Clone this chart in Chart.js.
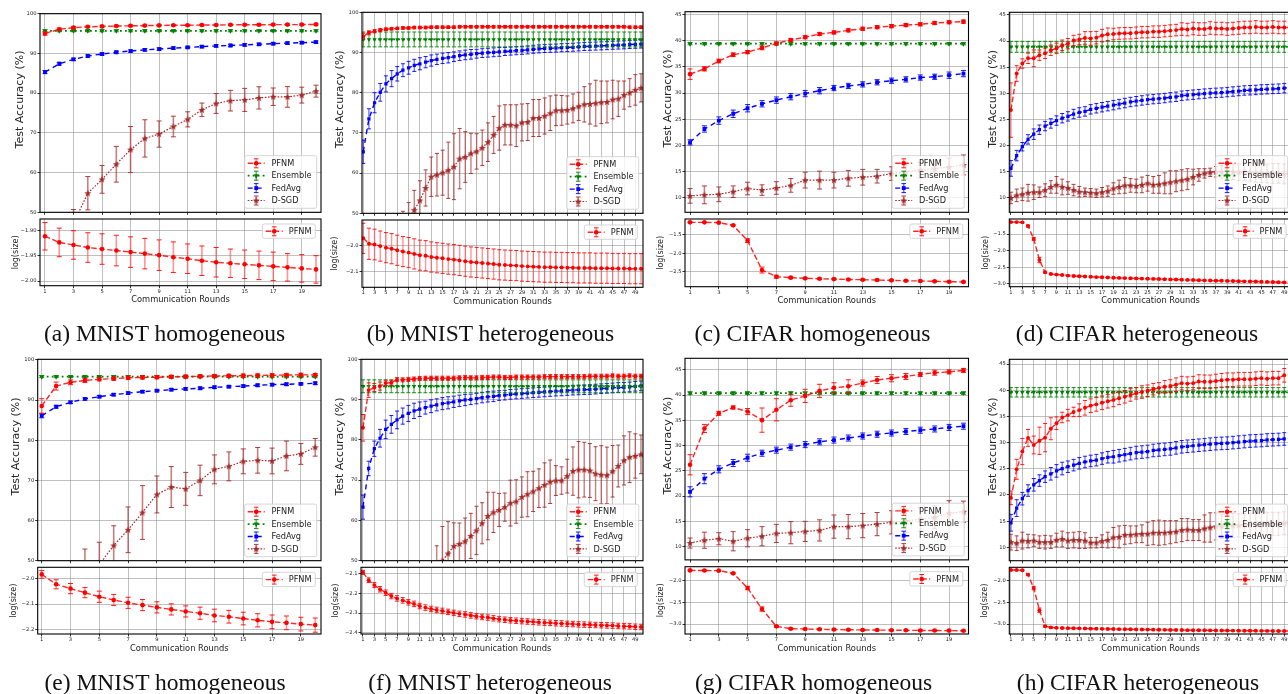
<!DOCTYPE html>
<html><head><meta charset="utf-8">
<script src="https://cdn.jsdelivr.net/npm/chart.js@4.4.1/dist/chart.umd.min.js"></script>
<style>
html,body{margin:0;padding:0;background:#fff;}
#fig{position:relative;width:1288px;height:694px;overflow:hidden;background:#fff;}
#fig canvas{position:absolute;}
.cap{position:absolute;width:330px;text-align:center;font-family:'Liberation Serif','Times New Roman',serif;font-size:23.5px;line-height:23.5px;color:#111;white-space:nowrap;}
</style></head><body><div id="fig"></div>
<script>
// ---------------- DATA ----------------
const captions = ['(a) MNIST homogeneous','(b) MNIST heterogeneous','(c) CIFAR homogeneous','(d) CIFAR heterogeneous',
                  '(e) MNIST homogeneous','(f) MNIST heterogeneous','(g) CIFAR homogeneous','(h) CIFAR heterogeneous'];
const rounds20 = [1,2,3,4,5,6,7,8,9,10,11,12,13,14,15,16,17,18,19,20];
const rounds50 = [1,2,3,4,5,6,7,8,9,10,11,12,13,14,15,16,17,18,19,20,21,22,23,24,25,26,27,28,29,30,31,32,33,34,35,36,37,38,39,40,41,42,43,44,45,46,47,48,49,50];
const xTicks20 = [1,3,5,7,9,11,13,15,17,19];
const xTicks50 = [1,3,5,7,9,11,13,15,17,19,21,23,25,27,29,31,33,35,37,39,41,43,45,47,49];
const accTicks100 = [50,60,70,80,90,100];
const accTicks45 = [10,15,20,25,30,35,40,45];
const a_sizeTicks = [-2.00,-1.95,-1.90];
const b_sizeTicks = [-2.1,-2.0];
const c_sizeTicks = [-2.5,-2.0,-1.5];
const d_sizeTicks = [-3.0,-2.5,-2.0,-1.5];
const e_sizeTicks = [-2.2,-2.1,-2.0];
const f_sizeTicks = [-2.4,-2.3,-2.2,-2.1];
const g_sizeTicks = [-3.0,-2.5,-2.0];
const h_sizeTicks = [-3.0,-2.5,-2.0];

// (a) MNIST homogeneous
const a_pfnm = [95.0,96.1,96.5,96.7,96.8,96.9,96.95,97.0,97.05,97.1,97.1,97.15,97.15,97.2,97.2,97.2,97.25,97.25,97.25,97.3];
const a_pfnm_err = [0.4,0.3,0.25,0.2,0.2,0.2,0.2,0.2,0.2,0.2,0.2,0.2,0.2,0.2,0.2,0.2,0.2,0.2,0.2,0.2];
const a_ens = [95.7,95.7,95.7,95.7,95.7,95.7,95.7,95.7,95.7,95.7,95.7,95.7,95.7,95.7,95.7,95.7,95.7,95.7,95.7,95.7];
const a_ens_err = [0.25,0.25,0.25,0.25,0.25,0.25,0.25,0.25,0.25,0.25,0.25,0.25,0.25,0.25,0.25,0.25,0.25,0.25,0.25,0.25];
const a_fedavg = [85.3,87.4,88.5,89.35,89.85,90.3,90.6,90.9,91.1,91.35,91.5,91.7,91.9,92.0,92.15,92.3,92.45,92.6,92.7,92.85];
const a_fedavg_err = [0.4,0.35,0.3,0.3,0.3,0.3,0.3,0.3,0.3,0.3,0.3,0.3,0.3,0.3,0.3,0.3,0.3,0.3,0.3,0.3];
const a_dsgd = [36.0,42.0,47.2,54.8,58.3,62.1,65.8,68.6,69.7,71.6,73.4,75.8,77.4,78.1,78.3,78.8,79.1,79.05,79.5,80.5];
const a_dsgd_err = [4.0,4.0,3.5,4.2,3.5,4.5,5.8,4.7,3.3,2.6,1.9,1.7,2.5,2.6,2.9,2.8,2.2,2.6,2.0,1.5];
const a_size = [-1.912,-1.924,-1.929,-1.934,-1.937,-1.940,-1.943,-1.946,-1.949,-1.953,-1.956,-1.960,-1.963,-1.965,-1.967,-1.969,-1.971,-1.973,-1.975,-1.977];
const a_size_err = [0.027,0.028,0.028,0.029,0.03,0.03,0.03,0.03,0.03,0.03,0.029,0.029,0.029,0.028,0.028,0.028,0.028,0.027,0.027,0.027];

// (b) MNIST heterogeneous
const b_pfnm = [94.0,94.9,95.3,95.6,95.8,95.9,96.0,96.1,96.1,96.2,
  96.2,96.2,96.3,96.3,96.3,96.3,96.3,96.4,96.4,96.4,
  96.4,96.4,96.4,96.4,96.4,96.4,96.4,96.4,96.4,96.4,
  96.4,96.4,96.4,96.4,96.4,96.4,96.4,96.4,96.4,96.4,
  96.4,96.4,96.4,96.4,96.4,96.4,96.4,96.3,96.3,96.3];
const b_pfnm_err = [0.8,0.5,0.4,0.35,0.3,0.3,0.3,0.3,0.3,0.3,
  0.3,0.3,0.3,0.3,0.3,0.3,0.3,0.3,0.3,0.3,
  0.3,0.3,0.3,0.3,0.3,0.3,0.3,0.3,0.3,0.3,
  0.3,0.3,0.3,0.3,0.3,0.3,0.3,0.3,0.3,0.3,
  0.3,0.3,0.3,0.3,0.3,0.3,0.3,0.3,0.3,0.3];
const b_ens = [93.25,93.25,93.25,93.25,93.25,93.25,93.25,93.25,93.25,93.25,
  93.25,93.25,93.25,93.25,93.25,93.25,93.25,93.25,93.25,93.25,
  93.25,93.25,93.25,93.25,93.25,93.25,93.25,93.25,93.25,93.25,
  93.25,93.25,93.25,93.25,93.25,93.25,93.25,93.25,93.25,93.25,
  93.25,93.25,93.25,93.25,93.25,93.25,93.25,93.25,93.25,93.25];
const b_ens_err = [1.85,1.85,1.85,1.85,1.85,1.85,1.85,1.85,1.85,1.85,
  1.85,1.85,1.85,1.85,1.85,1.85,1.85,1.85,1.85,1.85,
  1.85,1.85,1.85,1.85,1.85,1.85,1.85,1.85,1.85,1.85,
  1.85,1.85,1.85,1.85,1.85,1.85,1.85,1.85,1.85,1.85,
  1.85,1.85,1.85,1.85,1.85,1.85,1.85,1.85,1.85,1.85];
const b_fedavg = [65.3,73.5,77.5,80.1,82.2,83.5,84.7,85.6,86.2,86.8,
  87.2,87.6,88.0,88.3,88.55,88.7,88.95,89.2,89.4,89.55,
  89.7,89.85,89.95,90.05,90.15,90.25,90.35,90.45,90.55,90.65,
  90.8,90.9,91.0,91.05,91.1,91.2,91.25,91.3,91.4,91.5,
  91.55,91.6,91.65,91.7,91.8,91.85,91.9,92.0,92.05,92.1];
const b_fedavg_err = [2.9,2.5,2.5,2.2,2.0,2.0,1.8,1.6,1.6,1.5,
  1.5,1.4,1.4,1.3,1.3,1.3,1.2,1.2,1.2,1.2,
  1.1,1.1,1.1,1.1,1.1,1.0,1.0,1.0,1.0,1.0,
  1.0,1.0,1.0,1.0,1.0,1.0,1.0,1.0,1.0,1.0,
  1.0,1.0,1.0,1.0,1.0,1.0,1.0,1.0,1.0,1.0];
const b_dsgd = [30.0,34.0,38.0,41.0,44.0,46.0,47.5,48.5,49.0,50.8,
  53.2,56.3,59.1,59.6,60.1,60.7,61.6,63.6,64.0,64.9,
  65.4,66.3,67.7,69.5,71.2,72.0,72.0,71.8,72.6,72.7,
  73.7,73.7,74.2,74.9,75.6,75.6,75.7,76.1,76.6,77.1,
  77.2,77.4,77.6,77.7,78.3,78.5,79.4,80.0,80.7,81.2];
const b_dsgd_err = [3.0,3.0,3.0,3.0,3.0,3.0,2.0,2.0,3.7,4.9,
  4.9,4.5,4.9,5.3,5.6,7.0,8.2,7.5,6.3,5.0,
  4.4,4.4,4.8,4.6,5.5,5.0,5.0,5.2,4.6,4.6,
  4.6,4.6,4.5,4.3,3.8,3.7,3.5,3.6,3.5,4.4,
  5.0,5.7,5.3,5.2,4.8,4.4,3.5,3.5,3.8,3.5];
const b_size = [-1.973,-1.994,-1.997,-2.003,-2.009,-2.013,-2.019,-2.024,-2.028,-2.033,
  -2.038,-2.040,-2.045,-2.048,-2.050,-2.053,-2.055,-2.058,-2.061,-2.064,
  -2.066,-2.068,-2.070,-2.072,-2.075,-2.076,-2.077,-2.078,-2.080,-2.081,
  -2.082,-2.083,-2.084,-2.084,-2.085,-2.085,-2.086,-2.086,-2.087,-2.087,
  -2.087,-2.088,-2.088,-2.088,-2.089,-2.089,-2.089,-2.090,-2.090,-2.090];
const b_size_err = [0.058,0.060,0.059,0.058,0.058,0.058,0.058,0.058,0.058,0.058,
  0.058,0.058,0.058,0.058,0.058,0.058,0.058,0.058,0.058,0.058,
  0.058,0.058,0.058,0.058,0.058,0.058,0.058,0.058,0.058,0.058,
  0.058,0.058,0.058,0.058,0.058,0.058,0.058,0.058,0.058,0.058,
  0.058,0.058,0.058,0.058,0.058,0.058,0.058,0.058,0.058,0.058];

// (c) CIFAR homogeneous
const c_pfnm = [33.6,34.6,36.1,37.3,37.8,38.6,39.45,40.1,40.65,41.25,41.55,41.95,42.25,42.55,42.75,42.95,43.1,43.35,43.5,43.6];
const c_pfnm_err = [1.0,0.4,0.35,0.35,0.3,0.35,0.3,0.3,0.3,0.3,0.3,0.3,0.3,0.3,0.3,0.3,0.3,0.3,0.3,0.3];
const c_ens = [39.4,39.4,39.4,39.4,39.4,39.4,39.4,39.4,39.4,39.4,39.4,39.4,39.4,39.4,39.4,39.4,39.4,39.4,39.4,39.4];
const c_ens_err = [0.2,0.2,0.2,0.2,0.2,0.2,0.2,0.2,0.2,0.2,0.2,0.2,0.2,0.2,0.2,0.2,0.2,0.2,0.2,0.2];
const c_fedavg = [20.6,23.15,24.75,26.05,27.1,27.95,28.65,29.3,29.9,30.45,30.95,31.35,31.65,32.05,32.35,32.6,32.95,33.1,33.4,33.7];
const c_fedavg_err = [0.5,0.6,0.7,0.7,0.7,0.6,0.6,0.6,0.6,0.6,0.5,0.5,0.5,0.5,0.5,0.5,0.5,0.5,0.6,0.6];
const c_dsgd = [10.4,10.6,10.7,11.2,11.8,11.5,11.9,12.4,13.4,13.4,13.4,13.75,13.95,14.15,14.65,15.0,15.3,15.6,15.9,16.3];
const c_dsgd_err = [1.4,1.7,1.4,1.1,1.2,1.0,1.2,1.3,1.5,1.7,1.5,1.5,1.5,1.3,1.3,1.4,1.5,1.6,1.7,1.9];
const c_size = [-1.167,-1.168,-1.176,-1.248,-1.662,-2.455,-2.635,-2.66,-2.68,-2.69,-2.70,-2.71,-2.716,-2.725,-2.734,-2.745,-2.75,-2.76,-2.77,-2.775];
const c_size_err = [0.01,0.01,0.01,0.015,0.05,0.08,0.04,0.02,0.02,0.02,0.02,0.02,0.02,0.02,0.02,0.02,0.02,0.02,0.02,0.02];

// (d) CIFAR heterogeneous
const d_pfnm = [26.8,33.8,35.7,36.7,36.7,37.3,37.65,38.25,38.6,39.2,
  39.5,40.1,40.3,40.6,40.5,40.65,41.05,41.3,41.35,41.45,
  41.5,41.5,41.6,41.7,41.7,41.8,41.8,41.9,42.0,42.1,
  42.3,42.2,42.4,42.3,42.3,42.5,42.4,42.4,42.3,42.4,
  42.5,42.6,42.6,42.7,42.6,42.6,42.7,42.6,42.6,42.6];
const d_pfnm_err = [5.2,1.5,0.9,1.0,1.6,1.0,1.0,1.0,1.0,1.0,
  1.0,1.0,1.0,1.2,1.3,1.2,1.2,1.2,1.1,1.1,
  1.1,1.1,1.1,1.1,1.1,1.1,1.1,1.1,1.1,1.1,
  1.2,1.2,1.2,1.2,1.2,1.2,1.2,1.2,1.2,1.2,
  1.2,1.2,1.2,1.2,1.2,1.2,1.2,1.2,1.2,1.2];
const d_ens = [38.9,38.9,38.9,38.9,38.9,38.9,38.9,38.9,38.9,38.9,
  38.9,38.9,38.9,38.9,38.9,38.9,38.9,38.9,38.9,38.9,
  38.9,38.9,38.9,38.9,38.9,38.9,38.9,38.9,38.9,38.9,
  38.9,38.9,38.9,38.9,38.9,38.9,38.9,38.9,38.9,38.9,
  38.9,38.9,38.9,38.9,38.9,38.9,38.9,38.9,38.9,38.9];
const d_ens_err = [1.05,1.05,1.05,1.05,1.05,1.05,1.05,1.05,1.05,1.05,
  1.05,1.05,1.05,1.05,1.05,1.05,1.05,1.05,1.05,1.05,
  1.05,1.05,1.05,1.05,1.05,1.05,1.05,1.05,1.05,1.05,
  1.05,1.05,1.05,1.05,1.05,1.05,1.05,1.05,1.05,1.05,
  1.05,1.05,1.05,1.05,1.05,1.05,1.05,1.05,1.05,1.05];
const d_fedavg = [15.65,18.1,19.8,21.2,22.2,23.05,23.75,24.25,24.8,25.25,
  25.6,26.05,26.35,26.55,26.95,27.15,27.35,27.55,27.75,27.95,
  28.15,28.35,28.5,28.65,28.8,28.9,29.0,29.1,29.25,29.35,
  29.55,29.65,29.75,29.85,29.95,30.05,30.1,30.15,30.25,30.35,
  30.45,30.55,30.6,30.65,30.75,30.8,30.85,30.9,31.0,31.1];
const d_fedavg_err = [1.5,1.0,0.8,0.9,1.0,0.9,0.9,0.9,0.9,0.9,
  0.9,0.9,0.9,0.9,0.9,0.9,0.9,0.9,0.9,0.9,
  0.9,0.9,0.9,0.9,0.9,0.9,0.9,0.9,0.9,0.9,
  0.9,0.9,0.9,0.9,0.9,0.9,0.9,0.9,0.9,0.9,
  0.9,0.9,0.9,0.9,0.9,0.9,0.9,0.9,0.9,0.9];
const d_dsgd = [10.0,10.5,10.7,11.0,11.1,11.1,11.5,12.1,12.5,12.1,
  11.9,11.5,11.2,11.1,11.0,10.9,11.1,11.3,11.8,12.1,
  12.4,12.4,12.3,12.5,12.8,12.5,12.6,12.8,13.0,13.2,
  13.4,13.6,14.0,14.4,14.7,14.9,15.0,15.0,15.1,15.0,
  14.9,15.0,14.9,14.8,14.8,14.7,14.7,14.7,14.6,14.6];
const d_dsgd_err = [1.1,1.2,1.2,1.6,1.4,1.0,1.2,1.2,1.6,1.5,
  1.2,1.1,1.0,0.8,0.8,0.8,0.9,1.0,1.1,1.3,
  1.5,1.3,1.3,1.5,1.5,1.6,1.7,2.0,2.2,2.0,
  2.0,2.0,1.5,1.2,0.9,0.8,1.0,1.2,1.4,1.5,
  1.6,1.7,1.7,1.8,1.8,1.8,1.9,1.9,1.9,1.9];
const d_size = [-1.140,-1.140,-1.148,-1.260,-1.650,-2.285,-2.655,-2.705,-2.725,-2.737,
  -2.755,-2.765,-2.775,-2.780,-2.790,-2.800,-2.805,-2.810,-2.820,-2.825,
  -2.830,-2.835,-2.840,-2.845,-2.850,-2.855,-2.860,-2.865,-2.870,-2.875,
  -2.880,-2.885,-2.890,-2.895,-2.900,-2.905,-2.910,-2.910,-2.915,-2.920,
  -2.925,-2.930,-2.930,-2.935,-2.940,-2.945,-2.950,-2.955,-2.960,-2.965];
const d_size_err = [0.015,0.015,0.015,0.03,0.04,0.08,0.03,0.02,0.02,0.02,
  0.02,0.02,0.02,0.02,0.02,0.02,0.02,0.02,0.02,0.02,
  0.02,0.02,0.02,0.02,0.02,0.02,0.02,0.02,0.02,0.02,
  0.02,0.02,0.02,0.02,0.02,0.02,0.02,0.02,0.02,0.02,
  0.02,0.02,0.02,0.02,0.02,0.02,0.02,0.02,0.02,0.02];

// (e) MNIST homogeneous
const e_pfnm = [88.55,93.5,94.45,94.9,95.2,95.35,95.55,95.65,95.7,95.8,95.85,95.95,96.0,96.05,96.1,96.15,96.2,96.25,96.3,96.3];
const e_pfnm_err = [1.8,1.0,0.6,0.5,0.4,0.4,0.4,0.4,0.4,0.4,0.4,0.4,0.4,0.4,0.4,0.4,0.4,0.4,0.4,0.3];
const e_ens = [95.85,95.85,95.85,95.85,95.85,95.85,95.85,95.85,95.85,95.85,95.85,95.85,95.85,95.85,95.85,95.85,95.85,95.85,95.85,95.85];
const e_ens_err = [0.25,0.25,0.25,0.25,0.25,0.25,0.25,0.25,0.25,0.25,0.25,0.25,0.25,0.25,0.25,0.25,0.25,0.25,0.25,0.25];
const e_fedavg = [86.1,88.35,89.45,90.3,90.85,91.35,91.75,92.1,92.35,92.6,92.8,92.95,93.2,93.35,93.5,93.7,93.85,93.95,94.05,94.2];
const e_fedavg_err = [0.5,0.35,0.3,0.3,0.3,0.3,0.3,0.3,0.3,0.3,0.3,0.3,0.3,0.3,0.3,0.3,0.3,0.3,0.3,0.3];
const e_dsgd = [32.0,39.0,44.0,48.0,49.0,53.8,57.7,62.0,66.5,68.35,67.9,70.0,72.75,73.5,74.75,75.0,74.85,76.1,76.6,78.25];
const e_dsgd_err = [4.0,4.5,4.5,4.9,5.6,4.9,5.7,6.7,4.6,5.1,4.1,3.8,3.6,3.6,3.1,3.2,3.2,3.7,2.6,2.2];
const e_size = [-1.983,-2.022,-2.039,-2.055,-2.071,-2.084,-2.095,-2.104,-2.113,-2.121,-2.129,-2.136,-2.145,-2.150,-2.157,-2.164,-2.170,-2.174,-2.179,-2.183];
const e_size_err = [0.015,0.018,0.02,0.02,0.022,0.022,0.022,0.022,0.022,0.022,0.022,0.024,0.025,0.025,0.025,0.026,0.027,0.027,0.027,0.028];

// (f) MNIST heterogeneous
const f_pfnm = [83.0,92.35,93.0,93.35,94.1,94.2,94.95,94.9,95.0,95.1,
  95.25,95.3,95.3,95.3,95.3,95.3,95.3,95.4,95.5,95.4,
  95.4,95.5,95.5,95.6,95.6,95.5,95.5,95.6,95.6,95.6,
  95.6,95.6,95.7,95.7,95.7,95.7,95.7,95.7,95.7,95.7,
  95.8,95.8,95.8,95.8,95.9,95.8,95.8,95.9,95.8,95.8];
const f_pfnm_err = [3.3,1.8,1.0,1.0,0.7,0.6,0.5,0.5,0.5,0.5,
  0.5,0.5,0.5,0.5,0.5,0.5,0.5,0.5,0.5,0.5,
  0.5,0.5,0.5,0.5,0.5,0.5,0.5,0.5,0.5,0.5,
  0.5,0.5,0.5,0.5,0.5,0.5,0.5,0.5,0.5,0.5,
  0.5,0.5,0.5,0.5,0.5,0.5,0.5,0.5,0.5,0.5];
const f_ens = [93.3,93.3,93.3,93.3,93.3,93.3,93.3,93.3,93.3,93.3,
  93.3,93.3,93.3,93.3,93.3,93.3,93.3,93.3,93.3,93.3,
  93.3,93.3,93.3,93.3,93.3,93.3,93.3,93.3,93.3,93.3,
  93.3,93.3,93.3,93.3,93.3,93.3,93.3,93.3,93.3,93.3,
  93.3,93.3,93.3,93.3,93.3,93.3,93.3,93.3,93.3,93.3];
const f_ens_err = [1.6,1.6,1.6,1.6,1.6,1.6,1.6,1.6,1.6,1.6,
  1.6,1.6,1.6,1.6,1.6,1.6,1.6,1.6,1.6,1.6,
  1.6,1.6,1.6,1.6,1.6,1.6,1.6,1.6,1.6,1.6,
  1.6,1.6,1.6,1.6,1.6,1.6,1.6,1.6,1.6,1.6,
  1.6,1.6,1.6,1.6,1.6,1.6,1.6,1.6,1.6,1.6];
const f_fedavg = [63.3,72.9,77.8,80.4,82.6,83.85,84.95,85.9,86.55,87.2,
  87.6,88.0,88.35,88.7,89.0,89.2,89.45,89.7,89.9,90.05,
  90.25,90.5,90.7,90.8,91.0,91.1,91.3,91.4,91.5,91.6,
  91.7,91.8,91.9,92.0,92.1,92.15,92.25,92.35,92.4,92.45,
  92.5,92.6,92.7,92.8,92.9,93.0,93.05,93.15,93.3,93.4];
const f_fedavg_err = [3.0,1.8,1.9,2.2,2.3,2.2,2.2,2.0,2.0,1.9,
  1.8,1.6,1.6,1.5,1.5,1.5,1.4,1.4,1.4,1.3,
  1.3,1.3,1.3,1.3,1.2,1.2,1.2,1.2,1.2,1.2,
  1.2,1.2,1.2,1.2,1.2,1.2,1.2,1.2,1.2,1.2,
  1.2,1.2,1.2,1.2,1.2,1.2,1.2,1.2,1.2,1.2];
const f_dsgd = [20.0,25.0,29.0,32.0,35.0,37.0,39.0,41.0,42.5,43.5,
  44.5,45.0,46.0,49.0,50.0,51.8,53.6,54.15,54.8,56.15,
  57.5,59.3,61.1,62.0,62.6,63.3,64.3,64.7,65.8,66.5,
  67.2,68.0,68.8,69.6,69.9,69.9,71.0,72.25,72.6,72.6,
  72.4,71.6,71.35,71.2,72.2,73.5,74.9,75.7,76.0,76.4];
const f_dsgd_err = [4.0,4.0,4.0,4.0,4.0,4.0,4.0,4.0,4.0,3.5,
  3.0,3.0,3.0,4.7,8.5,7.9,5.8,5.2,5.8,5.6,
  6.0,5.1,5.9,5.0,4.1,3.5,5.7,5.4,5.0,5.6,
  5.0,4.8,5.5,5.4,3.7,3.4,4.2,6.0,7.0,6.8,
  6.7,6.7,7.2,7.0,6.4,5.2,6.1,6.3,5.5,4.8];
const f_size = [-2.092,-2.132,-2.157,-2.178,-2.196,-2.213,-2.225,-2.235,-2.245,-2.253,
  -2.264,-2.272,-2.279,-2.284,-2.289,-2.294,-2.299,-2.304,-2.307,-2.312,
  -2.316,-2.320,-2.323,-2.327,-2.331,-2.334,-2.337,-2.339,-2.341,-2.343,
  -2.345,-2.347,-2.349,-2.350,-2.352,-2.353,-2.355,-2.356,-2.358,-2.359,
  -2.360,-2.361,-2.362,-2.363,-2.364,-2.366,-2.367,-2.368,-2.370,-2.371];
const f_size_err = [0.010,0.012,0.013,0.014,0.014,0.014,0.014,0.014,0.014,0.014,
  0.014,0.014,0.014,0.014,0.014,0.014,0.014,0.014,0.014,0.014,
  0.014,0.014,0.014,0.014,0.014,0.014,0.014,0.014,0.014,0.014,
  0.014,0.014,0.014,0.014,0.014,0.014,0.014,0.014,0.014,0.014,
  0.014,0.014,0.014,0.014,0.014,0.014,0.014,0.014,0.014,0.014];

// (g) CIFAR homogeneous
const g_pfnm = [26.2,33.4,36.4,37.55,36.75,35.05,37.1,39.0,39.85,40.85,41.45,41.75,42.4,43.0,43.35,43.7,44.1,44.45,44.6,44.9];
const g_pfnm_err = [2.0,0.8,0.4,0.3,0.6,2.4,2.2,1.2,1.3,1.3,1.0,1.3,0.6,0.7,0.7,0.6,0.4,0.5,0.4,0.4];
const g_ens = [40.4,40.4,40.4,40.4,40.4,40.4,40.4,40.4,40.4,40.4,40.4,40.4,40.4,40.4,40.4,40.4,40.4,40.4,40.4,40.4];
const g_ens_err = [0.25,0.25,0.25,0.25,0.25,0.25,0.25,0.25,0.25,0.25,0.25,0.25,0.25,0.25,0.25,0.25,0.25,0.25,0.25,0.25];
const g_fedavg = [20.85,23.45,25.3,26.55,27.6,28.5,29.1,29.7,30.2,30.75,31.1,31.5,31.9,32.25,32.5,32.8,33.05,33.3,33.6,33.85];
const g_fedavg_err = [1.0,1.0,0.7,0.7,0.7,0.6,0.6,0.6,0.6,0.6,0.6,0.6,0.6,0.6,0.6,0.6,0.6,0.6,0.6,0.6];
const g_dsgd = [10.7,11.25,11.55,11.05,11.65,12.05,12.6,12.75,13.0,13.2,13.95,13.95,14.15,14.45,14.8,15.1,15.4,15.8,16.6,16.9];
const g_dsgd_err = [1.0,1.6,1.2,1.9,1.7,1.9,1.8,2.2,2.0,2.1,2.3,2.4,2.4,2.3,2.3,2.3,2.3,2.3,2.5,2.1];
const g_size = [-1.762,-1.765,-1.768,-1.830,-2.169,-2.654,-3.054,-3.108,-3.115,-3.122,-3.127,-3.132,-3.136,-3.139,-3.142,-3.145,-3.148,-3.150,-3.152,-3.155];
const g_size_err = [0.01,0.01,0.01,0.015,0.04,0.05,0.02,0.015,0.015,0.015,0.015,0.015,0.015,0.015,0.015,0.015,0.015,0.015,0.015,0.015];

// (h) CIFAR heterogeneous
const h_pfnm = [19.45,24.9,28.3,30.9,29.55,30.35,30.95,32.65,33.7,34.8,
  35.25,35.85,36.2,36.65,37.05,37.3,37.6,37.9,38.15,38.45,
  38.75,39.1,39.4,39.65,39.9,40.2,40.45,40.65,40.8,41.05,
  41.35,41.25,41.35,41.65,41.6,41.6,41.75,41.9,42.0,42.0,
  42.1,42.1,42.1,42.2,42.3,42.2,42.3,42.3,42.85,43.0];
const h_pfnm_err = [1.3,1.9,2.5,1.6,1.7,2.6,2.7,2.1,1.2,1.0,
  1.1,0.9,1.2,1.4,1.3,1.3,1.3,1.3,1.3,1.2,
  1.2,1.2,1.1,1.2,1.1,1.1,1.0,1.2,1.2,1.3,
  1.3,1.3,1.3,1.3,1.3,1.3,1.3,1.3,1.3,1.3,
  1.3,1.3,1.3,1.3,1.3,1.3,1.3,1.3,1.3,1.3];
const h_ens = [39.6,39.6,39.6,39.6,39.6,39.6,39.6,39.6,39.6,39.6,
  39.6,39.6,39.6,39.6,39.6,39.6,39.6,39.6,39.6,39.6,
  39.6,39.6,39.6,39.6,39.6,39.6,39.6,39.6,39.6,39.6,
  39.6,39.6,39.6,39.6,39.6,39.6,39.6,39.6,39.6,39.6,
  39.6,39.6,39.6,39.6,39.6,39.6,39.6,39.6,39.6,39.6];
const h_ens_err = [0.9,0.9,0.9,0.9,0.9,0.9,0.9,0.9,0.9,0.9,
  0.9,0.9,0.9,0.9,0.9,0.9,0.9,0.9,0.9,0.9,
  0.9,0.9,0.9,0.9,0.9,0.9,0.9,0.9,0.9,0.9,
  0.9,0.9,0.9,0.9,0.9,0.9,0.9,0.9,0.9,0.9,
  0.9,0.9,0.9,0.9,0.9,0.9,0.9,0.9,0.9,0.9];
const h_fedavg = [14.7,17.5,19.3,20.85,21.95,22.75,23.5,24.05,24.6,25.05,
  25.4,25.7,26.05,26.3,26.5,26.65,26.95,27.2,27.3,27.5,
  27.7,27.9,28.1,28.2,28.3,28.5,28.6,28.7,28.8,29.0,
  29.2,29.3,29.4,29.5,29.6,29.7,29.8,29.85,29.9,30.0,
  30.1,30.2,30.3,30.35,30.4,30.5,30.55,30.6,30.7,30.8];
const h_fedavg_err = [1.6,1.6,1.2,1.1,1.2,1.1,1.1,1.2,1.2,1.2,
  1.1,1.1,1.1,1.1,1.1,1.1,1.1,1.1,1.2,1.2,
  1.2,1.2,1.2,1.2,1.2,1.2,1.2,1.2,1.2,1.2,
  1.2,1.2,1.2,1.2,1.2,1.2,1.2,1.2,1.2,1.2,
  1.2,1.2,1.2,1.2,1.2,1.2,1.2,1.2,1.2,1.2];
const h_dsgd = [11.0,10.8,11.3,11.2,11.3,11.0,11.0,11.0,11.4,11.6,
  11.3,11.4,11.4,11.3,10.9,10.9,11.2,11.4,11.9,12.0,
  12.4,12.4,12.5,12.6,12.6,12.8,12.8,12.8,12.9,13.0,
  13.3,13.4,13.3,13.3,13.6,13.8,14.0,14.0,14.1,14.2,
  14.2,14.3,14.3,14.4,14.4,14.5,14.5,14.5,14.6,14.6];
const h_dsgd_err = [1.5,1.4,1.6,1.3,1.1,1.2,1.3,1.2,1.3,1.5,
  1.5,1.5,1.6,1.5,1.0,1.0,1.2,1.5,1.9,2.1,
  1.8,1.7,1.6,1.7,2.2,2.3,2.4,2.3,2.2,2.1,
  2.2,2.1,2.0,2.0,2.6,2.8,2.6,2.3,2.3,2.3,
  2.2,2.2,2.2,2.2,2.2,2.2,2.2,2.2,2.2,2.2];
const h_size = [-1.754,-1.754,-1.757,-1.860,-2.170,-2.680,-3.050,-3.078,-3.088,-3.092,
  -3.095,-3.098,-3.100,-3.103,-3.106,-3.108,-3.111,-3.113,-3.116,-3.118,
  -3.120,-3.122,-3.124,-3.126,-3.128,-3.130,-3.132,-3.134,-3.136,-3.137,
  -3.139,-3.141,-3.142,-3.144,-3.145,-3.147,-3.148,-3.150,-3.151,-3.152,
  -3.153,-3.154,-3.155,-3.156,-3.157,-3.158,-3.159,-3.160,-3.160,-3.161];
const h_size_err = [0.012,0.012,0.012,0.02,0.04,0.05,0.02,0.015,0.015,0.015,
  0.015,0.015,0.015,0.015,0.015,0.015,0.015,0.015,0.015,0.015,
  0.015,0.015,0.015,0.015,0.015,0.015,0.015,0.015,0.015,0.015,
  0.015,0.015,0.015,0.015,0.015,0.015,0.015,0.015,0.015,0.015,
  0.015,0.015,0.015,0.015,0.015,0.015,0.015,0.015,0.015,0.015];

// ---------------- PANEL ASSEMBLY ----------------
const panelData = {
  a:{rounds:rounds20,xTicks:xTicks20,pfnm:[a_pfnm,a_pfnm_err],ens:[a_ens,a_ens_err],fedavg:[a_fedavg,a_fedavg_err],dsgd:[a_dsgd,a_dsgd_err],size:[a_size,a_size_err],accTicks:accTicks100,sizeTicks:a_sizeTicks,caption:captions[0]},
  b:{rounds:rounds50,xTicks:xTicks50,pfnm:[b_pfnm,b_pfnm_err],ens:[b_ens,b_ens_err],fedavg:[b_fedavg,b_fedavg_err],dsgd:[b_dsgd,b_dsgd_err],size:[b_size,b_size_err],accTicks:accTicks100,sizeTicks:b_sizeTicks,caption:captions[1]},
  c:{rounds:rounds20,xTicks:xTicks20,pfnm:[c_pfnm,c_pfnm_err],ens:[c_ens,c_ens_err],fedavg:[c_fedavg,c_fedavg_err],dsgd:[c_dsgd,c_dsgd_err],size:[c_size,c_size_err],accTicks:accTicks45,sizeTicks:c_sizeTicks,caption:captions[2]},
  d:{rounds:rounds50,xTicks:xTicks50,pfnm:[d_pfnm,d_pfnm_err],ens:[d_ens,d_ens_err],fedavg:[d_fedavg,d_fedavg_err],dsgd:[d_dsgd,d_dsgd_err],size:[d_size,d_size_err],accTicks:accTicks45,sizeTicks:d_sizeTicks,caption:captions[3]},
  e:{rounds:rounds20,xTicks:xTicks20,pfnm:[e_pfnm,e_pfnm_err],ens:[e_ens,e_ens_err],fedavg:[e_fedavg,e_fedavg_err],dsgd:[e_dsgd,e_dsgd_err],size:[e_size,e_size_err],accTicks:accTicks100,sizeTicks:e_sizeTicks,caption:captions[4]},
  f:{rounds:rounds50,xTicks:xTicks50,pfnm:[f_pfnm,f_pfnm_err],ens:[f_ens,f_ens_err],fedavg:[f_fedavg,f_fedavg_err],dsgd:[f_dsgd,f_dsgd_err],size:[f_size,f_size_err],accTicks:accTicks100,sizeTicks:f_sizeTicks,caption:captions[5]},
  g:{rounds:rounds20,xTicks:xTicks20,pfnm:[g_pfnm,g_pfnm_err],ens:[g_ens,g_ens_err],fedavg:[g_fedavg,g_fedavg_err],dsgd:[g_dsgd,g_dsgd_err],size:[g_size,g_size_err],accTicks:accTicks45,sizeTicks:g_sizeTicks,caption:captions[6]},
  h:{rounds:rounds50,xTicks:xTicks50,pfnm:[h_pfnm,h_pfnm_err],ens:[h_ens,h_ens_err],fedavg:[h_fedavg,h_fedavg_err],dsgd:[h_dsgd,h_dsgd_err],size:[h_size,h_size_err],accTicks:accTicks45,sizeTicks:h_sizeTicks,caption:captions[7]}
};

// layout (pixel geometry and axis ranges)
const layout = {
  a:{L:40,R:321,tT:13.7,tB:212.3,bT:219,bB:285.7,xmin:0.65,xmax:20.35,acc:[50,100],size:[-2.009,-1.878],sizeDec:2,accOff:20,sizeOff:24,small:false,capX:164.5,capTop:322.3},
  b:{L:362,R:643,tT:12.3,tB:213.3,bT:220,bB:287.3,xmin:0.78,xmax:50.35,acc:[50,100],size:[-2.1615,-1.9026],sizeDec:1,accOff:21.7,sizeOff:26.7,small:true,capX:490.5,capTop:322.3},
  c:{L:685,R:968.5,tT:11.7,tB:212.3,bT:219,bB:286.7,xmin:0.65,xmax:20.35,acc:[7.27,45.5],size:[-2.905,-1.077],sizeDec:1,accOff:16.7,sizeOff:24,small:false,capX:812.5,capTop:322.3},
  d:{L:1009.3,R:1291.9,tT:12.3,tB:212.3,bT:219,bB:286.7,xmin:0.707,xmax:50.35,acc:[7.26,45.5],size:[-3.09,-1.047],sizeDec:1,accOff:16,sizeOff:23.3,small:true,capX:1137,capTop:322.3},
  e:{L:37.7,R:321,tT:359.3,tB:560.7,bT:567.3,bB:634,xmin:0.72,xmax:20.4,acc:[50,100.17],size:[-2.218,-1.955],sizeDec:1,accOff:22,sizeOff:23.4,small:false,capX:165,capTop:671},
  f:{L:361,R:643,tT:359.3,tB:560.7,bT:567.3,bB:634,xmin:0.65,xmax:50.36,acc:[50,100],size:[-2.407,-2.066],sizeDec:1,accOff:20.7,sizeOff:25,small:true,capX:490,capTop:671},
  g:{L:685,R:968.5,tT:358.3,tB:560,bT:566.7,bB:634,xmin:0.65,xmax:20.35,acc:[7.36,47.3],size:[-3.23,-1.677],sizeDec:1,accOff:16.7,sizeOff:24,small:false,capX:813.5,capTop:671},
  h:{L:1009.3,R:1291.9,tT:359.3,tB:560.7,bT:567.3,bB:634,xmin:0.707,xmax:50.35,acc:[7.46,45.9],size:[-3.23,-1.69],sizeDec:1,accOff:16,sizeOff:24,small:true,capX:1138,capTop:671}
};

// ---------------- STYLES ----------------
const styles = {
  pfnm:{key:'pfnm',label:'PFNM',color:'#ff0000',line:'rgba(255,0,0,0.85)',dash:[5.5,2.5],width:1.4,point:'circle',r:2.3,errColor:'rgba(255,60,60,0.55)'},
  ens:{key:'ens',label:'Ensemble',color:'#008000',line:'#008000',dash:[1.8,3.2],width:1.8,point:'triangle',rot:180,r:3.0,errColor:'rgba(0,128,0,0.55)'},
  fedavg:{key:'fedavg',label:'FedAvg',color:'#0000ff',line:'#0000ff',dash:[5,4],width:1.4,point:'rect',r:2.7,errColor:'rgba(0,0,255,0.55)'},
  dsgd:{key:'dsgd',label:'D-SGD',color:'#a52a2a',line:'#a52a2a',dash:[1.6,1.6],width:1.2,point:'star',r:3,errColor:'rgba(165,42,42,0.6)'}
};
const GRID = 'rgba(140,140,140,0.55)';
const TXT = '#222';
Chart.defaults.font.family = "'DejaVu Sans', sans-serif";
Chart.defaults.color = TXT;

function makeStar(color){
  const c=document.createElement('canvas'); c.width=8; c.height=8;
  const g=c.getContext('2d'); g.fillStyle=color; g.beginPath();
  for(let k=0;k<10;k++){const rad=k%2?1.5:3.8; const ang=-Math.PI/2+k*Math.PI/5;
    const px=4+rad*Math.cos(ang), py=4.3+rad*Math.sin(ang); if(k) g.lineTo(px,py); else g.moveTo(px,py);}
  g.closePath(); g.fill(); return c;
}
const starImg = makeStar('#a52a2a');

function drawMarker(ctx, st, x, y, k){
  ctx.save(); ctx.setLineDash([]); ctx.fillStyle=st.color;
  const r=st.r*k;
  if(st.point==='circle'){ctx.beginPath();ctx.arc(x,y,r,0,2*Math.PI);ctx.fill();}
  else if(st.point==='rect'){const s=r*Math.SQRT1_2;ctx.fillRect(x-s,y-s,2*s,2*s);}
  else if(st.point==='triangle'){ctx.beginPath();ctx.moveTo(x-r*0.866,y-r*0.5);ctx.lineTo(x+r*0.866,y-r*0.5);ctx.lineTo(x,y+r);ctx.closePath();ctx.fill();}
  else if(st.point==='star'){ctx.drawImage(starImg,x-4,y-4);}
  ctx.restore();
}
function rrect(ctx,x,y,w,h,r){ctx.beginPath();ctx.moveTo(x+r,y);ctx.lineTo(x+w-r,y);ctx.quadraticCurveTo(x+w,y,x+w,y+r);ctx.lineTo(x+w,y+h-r);ctx.quadraticCurveTo(x+w,y+h,x+w-r,y+h);ctx.lineTo(x+r,y+h);ctx.quadraticCurveTo(x,y+h,x,y+h-r);ctx.lineTo(x,y+r);ctx.quadraticCurveTo(x,y,x+r,y);ctx.closePath();}

// ---------------- PLUGINS ----------------
const errorBarPlugin = {
  id:'errbars',
  beforeDatasetDraw(chart,args){
    const ds=chart.data.datasets[args.index]; if(!ds.errs) return;
    const ctx=chart.ctx, a=chart.chartArea, xs=chart.scales.x, ys=chart.scales.y;
    ctx.save(); ctx.beginPath(); ctx.rect(a.left,a.top,a.right-a.left,a.bottom-a.top); ctx.clip(); ctx.setLineDash([]);
    ds.data.forEach((p,i)=>{
      const e=ds.errs[i]; const x=xs.getPixelForValue(p.x);
      const y1=ys.getPixelForValue(p.y+e), y2=ys.getPixelForValue(p.y-e);
      ctx.strokeStyle=ds.errColor; ctx.lineWidth=ds.errW; ctx.beginPath(); ctx.moveTo(x,y1); ctx.lineTo(x,y2); ctx.stroke();
      ctx.strokeStyle=ds.capColor; ctx.lineWidth=0.9; ctx.beginPath();
      ctx.moveTo(x-ds.capW,y1); ctx.lineTo(x+ds.capW,y1); ctx.moveTo(x-ds.capW,y2); ctx.lineTo(x+ds.capW,y2); ctx.stroke();
    });
    ctx.restore();
  }
};
const framePlugin = {
  id:'frame',
  afterDatasetsDraw(chart){
    const ctx=chart.ctx,a=chart.chartArea; ctx.save(); ctx.strokeStyle='#000'; ctx.lineWidth=1.1; ctx.setLineDash([]);
    ctx.strokeRect(a.left,a.top,a.right-a.left,a.bottom-a.top); ctx.restore();
  }
};
const yTitlePlugin = {
  id:'yTitle',
  afterDraw(chart,args,o){
    if(!o||!o.text) return; const ctx=chart.ctx,a=chart.chartArea;
    ctx.save(); ctx.translate(a.left-o.off,(a.top+a.bottom)/2+(o.shift||0)); ctx.rotate(-Math.PI/2);
    ctx.font=o.size+"px 'DejaVu Sans'"; ctx.fillStyle=TXT; ctx.textAlign='center'; ctx.textBaseline='middle';
    ctx.fillText(o.text,0,0); ctx.restore();
  }
};
const legendPlugin = {
  id:'mplLegend',
  afterDraw(chart,args,o){
    if(!o||!o.items) return; const ctx=chart.ctx,a=chart.chartArea;
    const x0=a.right-o.dr-o.w; const y0=o.anchor==='bottom'?a.bottom-o.db-o.h:a.top+o.dt;
    ctx.save(); rrect(ctx,x0,y0,o.w,o.h,2); ctx.fillStyle='rgba(255,255,255,0.8)'; ctx.fill();
    ctx.strokeStyle='#cccccc'; ctx.lineWidth=0.8; ctx.stroke();
    o.items.forEach((key,i)=>{
      const st=styles[key]; const yy=y0+o.row0+i*o.rowH; const xs=x0+o.sx0, xe=x0+o.sx1, xm=(xs+xe)/2;
      ctx.setLineDash(st.dash); ctx.strokeStyle=st.line; ctx.lineWidth=st.width; ctx.beginPath(); ctx.moveTo(xs,yy); ctx.lineTo(xe,yy); ctx.stroke();
      ctx.setLineDash([]); ctx.strokeStyle=st.errColor; ctx.lineWidth=1.6; ctx.beginPath(); ctx.moveTo(xm,yy-4.5); ctx.lineTo(xm,yy+4.5); ctx.stroke();
      ctx.strokeStyle=st.color; ctx.lineWidth=0.9; ctx.beginPath(); ctx.moveTo(xm-2.3,yy-4.5); ctx.lineTo(xm+2.3,yy-4.5); ctx.moveTo(xm-2.3,yy+4.5); ctx.lineTo(xm+2.3,yy+4.5); ctx.stroke();
      drawMarker(ctx,st,xm,yy,1);
      ctx.fillStyle=TXT; ctx.font="8.2px 'DejaVu Sans'"; ctx.textBaseline='middle'; ctx.textAlign='left';
      ctx.fillText(st.label,x0+o.tx,yy+0.5);
    });
    ctx.restore();
  }
};

function fmt(v,dec){return (v<0?'\u2212':'')+Math.abs(v).toFixed(dec);}

function makeDataset(key, rounds, pair, small){
  const st=styles[key]; const k=small?0.85:1;
  return {label:st.label, data:rounds.map((r,i)=>({x:r,y:pair[0][i]})), errs:pair[1],
    errColor:st.errColor, capColor:st.color, capW:small?2.0:2.5, errW:small?1.4:1.6,
    borderColor:st.line, borderWidth:st.width, borderDash:st.dash, fill:false, tension:0,
    pointStyle: st.point==='star'?starImg:st.point, pointRotation:st.rot||0, pointRadius:st.r*k,
    pointBackgroundColor:st.color, pointBorderColor:st.color, pointBorderWidth:0};
}

const fig=document.getElementById('fig');
function subChart(spec){
  const cl=Math.floor(spec.L-32), ct=Math.floor(spec.T-6);
  const wY=spec.L-cl, padTop=spec.T-ct;
  const cw=Math.ceil(spec.R-cl+5), padRight=cw-(spec.R-cl);
  const ch=Math.ceil(spec.B-ct+spec.hX), padBottom=ch-(spec.B-ct)-spec.hX;
  const cv=document.createElement('canvas'); cv.width=cw; cv.height=ch;
  cv.style.left=cl+'px'; cv.style.top=ct+'px'; cv.style.width=cw+'px'; cv.style.height=ch+'px';
  fig.appendChild(cv);
  new Chart(cv,{type:'line',data:{datasets:spec.datasets},
    options:{responsive:false,animation:false,devicePixelRatio:1,events:[],
      layout:{padding:{left:0,top:padTop,right:padRight,bottom:padBottom}},
      plugins:{legend:{display:false},tooltip:{enabled:false},mplLegend:spec.legend,yTitle:spec.yTitle},
      scales:{
        x:{type:'linear',min:spec.xmin,max:spec.xmax,
          afterBuildTicks:s=>{s.ticks=spec.xTicks.map(v=>({value:v}));},
          afterFit:s=>{s.height=spec.hX;},
          grid:{color:GRID,lineWidth:1,drawTicks:true,tickLength:2.5,tickColor:'#000',tickWidth:0.8},
          border:{display:false},
          ticks:{display:spec.xLabels,autoSkip:false,maxRotation:0,minRotation:0,padding:0,font:{size:5.2},color:TXT,callback:v=>String(v)},
          title:spec.xLabels?{display:true,text:'Communication Rounds',font:{size:8.3},color:TXT,padding:{top:0,bottom:4}}:{display:false}
        },
        y:{type:'linear',min:spec.ymin,max:spec.ymax,
          afterBuildTicks:s=>{s.ticks=spec.yTicks.map(v=>({value:v}));},
          afterFit:s=>{s.width=wY;},
          grid:{color:GRID,lineWidth:1,drawTicks:true,tickLength:2.5,tickColor:'#000',tickWidth:0.8},
          border:{display:false},
          ticks:{font:{size:5.2},color:TXT,padding:1,callback:v=>fmt(v,spec.yDec)}
        }
      }},
    plugins:[errorBarPlugin,framePlugin,yTitlePlugin,legendPlugin]});
}

['a','b','c','d','e','f','g','h'].forEach(id=>{
  const P=panelData[id], Lo=layout[id];
  subChart({L:Lo.L,R:Lo.R,T:Lo.tT,B:Lo.tB,hX:4,xmin:Lo.xmin,xmax:Lo.xmax,ymin:Lo.acc[0],ymax:Lo.acc[1],
    yTicks:P.accTicks,yDec:0,xTicks:P.xTicks,xLabels:false,
    datasets:['pfnm','ens','fedavg','dsgd'].map(k=>makeDataset(k,P.rounds,P[k],Lo.small)),
    legend:{items:['pfnm','ens','fedavg','dsgd'],anchor:'bottom',w:72,h:52.6,dr:4.3,db:4,row0:7.6,rowH:12.4,sx0:3,sx1:20,tx:26.7},
    yTitle:{text:'Test Accuracy (%)',size:11,off:Lo.accOff,shift:-13.5}});
  subChart({L:Lo.L,R:Lo.R,T:Lo.bT,B:Lo.bB,hX:23.4,xmin:Lo.xmin,xmax:Lo.xmax,ymin:Lo.size[0],ymax:Lo.size[1],
    yTicks:P.sizeTicks,yDec:Lo.sizeDec,xTicks:P.xTicks,xLabels:true,
    datasets:[makeDataset('pfnm',P.rounds,P.size,Lo.small)],
    legend:{items:['pfnm'],anchor:'top',w:53,h:14.3,dr:5.7,dt:5,row0:7.3,rowH:0,sx0:3.4,sx1:20.4,tx:26.4},
    yTitle:{text:'log(size)',size:8,off:Lo.sizeOff,shift:0}});
  const cap=document.createElement('div'); cap.className='cap'; cap.textContent=P.caption;
  cap.style.left=(Lo.capX-165)+'px'; cap.style.top=Lo.capTop+'px'; fig.appendChild(cap);
});
</script></body></html>
